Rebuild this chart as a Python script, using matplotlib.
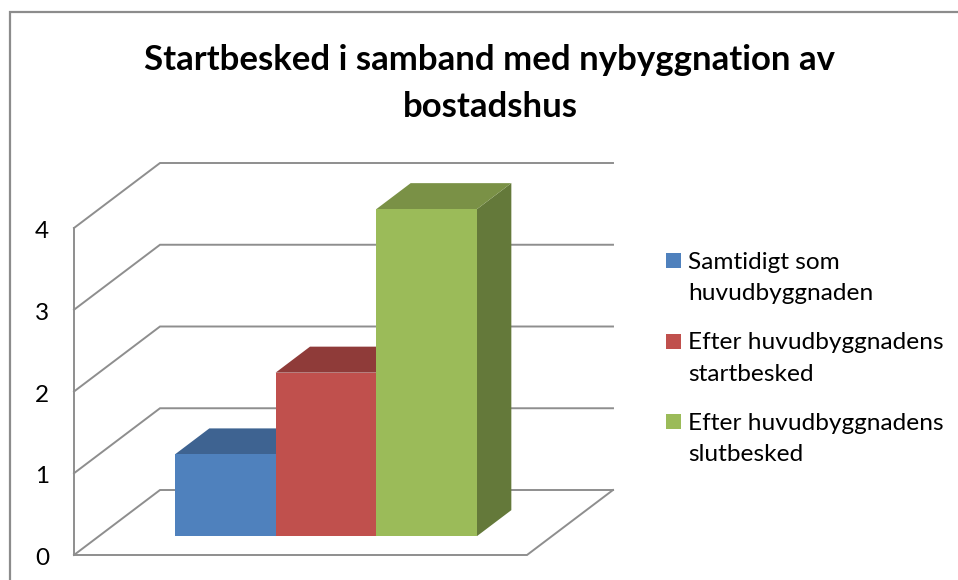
import matplotlib
matplotlib.use("Agg")
import matplotlib.pyplot as plt
from matplotlib.patches import Polygon, Rectangle
from matplotlib.transforms import Affine2D

series = ["Samtidigt som\nhuvudbyggnaden", "Efter huvudbyggnadens\nstartbesked", "Efter huvudbyggnadens\nslutbesked"]
values = [1, 2, 4]
yticks = [0, 1, 2, 3, 4]
title = "Startbesked i samband med nybyggnation av\nbostadshus"
front = ["#4F81BD", "#C0504D", "#9BBB59"]
top = ["#3E6391", "#8F3B39", "#7A9146"]
side = ["#365579", "#7A3230", "#64793A"]

W, H = 958, 580
plt.rcParams["font.family"] = ["Lato", "DejaVu Sans"]
fig = plt.figure(figsize=(W / 100, H / 100), dpi=100, facecolor="white")
fig.add_artist(Rectangle((10 / W, -5 / H), 960 / W, (H - 12 + 5) / H, transform=fig.transFigure,
                         fill=False, edgecolor="#8C8C8C", linewidth=1.6))
ax = fig.add_axes([74 / W, (H - 555) / H, 453 / W, 327 / H])
ax.patch.set_visible(False)
XW = 4.5
ax.set_xlim(0, XW)
ax.set_ylim(0, 4)
DX, DY = 86 / 100.67, 65 / 81.75
F0, F1 = 0.29, 0.69
GRID = "#8E8E8E"

for s in ax.spines.values():
    s.set_visible(False)
ax.set_xticks([])
ax.set_yticks(yticks)
ax.tick_params(axis="y", length=0, pad=18, labelsize=17.5)
for lbl in ax.get_yticklabels():
    lbl.set_transform(lbl.get_transform() + Affine2D().translate(0, -1.5))

for v in yticks:
    ax.plot([0, DX, XW + DX], [v, v + DY, v + DY], color=GRID, lw=1.4, clip_on=False, zorder=1,
            solid_joinstyle="miter")
ax.plot([0, 0], [0, 4], color=GRID, lw=1.4, clip_on=False, zorder=1)
ax.plot([0, XW, XW + DX], [0, 0, DY], color=GRID, lw=1.4, clip_on=False, zorder=1,
        solid_joinstyle="miter")

for i, v in enumerate(values):
    l = 0.755 + i + F0 * DX
    b = F0 * DY
    d = (F1 - F0)
    ax.add_patch(Polygon([(l + 1, b), (l + 1 + d * DX, b + d * DY), (l + 1 + d * DX, b + d * DY + v), (l + 1, b + v)],
                         facecolor=side[i], edgecolor="none", clip_on=False, zorder=2 + i))
    ax.add_patch(Polygon([(l, b + v), (l + d * DX, b + v + d * DY), (l + 1 + d * DX, b + v + d * DY), (l + 1, b + v)],
                         facecolor=top[i], edgecolor="none", clip_on=False, zorder=2 + i))
    ax.bar(l, v, width=1, bottom=b, align="edge", color=front[i], linewidth=0, clip_on=False, zorder=2 + i)

fig.text(490 / W, 1 - 83.5 / H, title, ha="center", va="center", fontsize=25, fontweight="bold",
         linespacing=1.57, color="black")

for i, lab in enumerate(series):
    y = 261 + i * 80.5
    fig.add_artist(Rectangle((666 / W, 1 - (y + 7) / H), 15 / W, 15 / H, transform=fig.transFigure,
                             facecolor=front[i], edgecolor="none"))
    fig.text(688 / W, 1 - (y + 17) / H, lab, ha="left", va="center", fontsize=17.6, linespacing=1.6, color="black")

fig.savefig("out.png", dpi=100)
